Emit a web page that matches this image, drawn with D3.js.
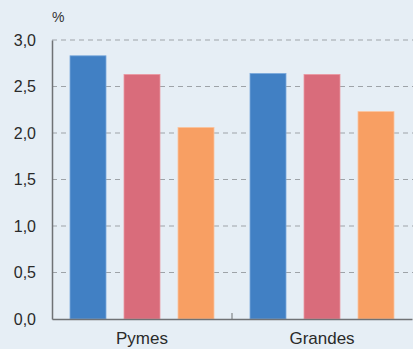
<!DOCTYPE html>
<html>
<head>
<meta charset="utf-8">
<script src="https://cdn.jsdelivr.net/npm/d3@7"></script>
<style>
  body { margin: 0; background: #e6eef5; }
  svg { display: block; font-family: "Liberation Sans", Arial, sans-serif; }
</style>
</head>
<body>
<svg></svg>
<script>
const categories = ["Pymes", "Grandes"];
const seriesNames = ["s1", "s2", "s3"];
const seriesValues = [
  [2.83, 2.63, 2.06],
  [2.64, 2.63, 2.23],
];
const yTicks = [0, 0.5, 1, 1.5, 2, 2.5, 3];
const colours = ["#4180c4", "#d96c7b", "#f89f63"];
const strokes = ["#7aa8dc", "#eb9aa4", "#fbc49e"];

const width = 413;
const height = 349;
const margin = { top: 40, right: 1, bottom: 30, left: 52 };

const svg = d3.select("svg").attr("width", width).attr("height", height);

svg.append("rect")
  .attr("width", width)
  .attr("height", height)
  .attr("fill", "#e6eef5");

const x0 = d3.scaleBand()
  .domain(categories)
  .range([margin.left, width - margin.right]);

const x1 = d3.scaleBand()
  .domain(seriesNames)
  .range([0, x0.bandwidth()])
  .paddingInner(1 / 3)
  .paddingOuter(1 / 3);

const y = d3.scaleLinear()
  .domain([0, 3])
  .range([height - margin.bottom, margin.top]);

const fmt = (d) => d3.format(".1f")(d).replace(".", ",");

// gridlines
svg.append("g")
  .selectAll("line")
  .data(yTicks.filter((d) => d > 0))
  .join("line")
  .attr("x1", margin.left)
  .attr("x2", width)
  .attr("y1", (d) => y(d))
  .attr("y2", (d) => y(d))
  .attr("stroke", "#9ea3a8")
  .attr("stroke-width", 1)
  .attr("stroke-dasharray", "5,4");

// bars
const groups = svg.append("g")
  .selectAll("g")
  .data(categories)
  .join("g")
  .attr("transform", (d) => `translate(${x0(d)},0)`);

groups.selectAll("rect")
  .data((d, i) => seriesValues[i].map((v, j) => ({ key: seriesNames[j], value: v, j })))
  .join("rect")
  .attr("x", (d) => x1(d.key))
  .attr("y", (d) => y(d.value))
  .attr("width", x1.bandwidth())
  .attr("height", (d) => y(0) - y(d.value))
  .attr("fill", (d) => colours[d.j])
  .attr("stroke", (d) => strokes[d.j])
  .attr("stroke-width", 0.8);

// y axis
const yAxis = svg.append("g")
  .attr("transform", `translate(${margin.left},0)`)
  .call(d3.axisLeft(y).tickValues(yTicks).tickFormat(fmt).tickSize(0).tickPadding(16));
yAxis.select(".domain").attr("stroke", "#6f7275").attr("stroke-width", 1.5);
yAxis.selectAll("text").attr("font-size", 16).attr("fill", "#2a2a2a").attr("font-family", "Liberation Sans, Arial, sans-serif");

// x axis
const xAxis = svg.append("g")
  .attr("transform", `translate(0,${y(0)})`)
  .call(d3.axisBottom(x0).tickSize(0).tickPadding(13));
xAxis.select(".domain").attr("stroke", "#6f7275").attr("stroke-width", 1.5);
xAxis.selectAll("text").attr("font-size", 17).attr("fill", "#2a2a2a").attr("font-family", "Liberation Sans, Arial, sans-serif");

// separator tick between groups
svg.append("line")
  .attr("x1", x0("Grandes"))
  .attr("x2", x0("Grandes"))
  .attr("y1", y(0))
  .attr("y2", y(0) - 6)
  .attr("stroke", "#6f7275")
  .attr("stroke-width", 1);

// unit label
svg.append("text")
  .attr("x", margin.left)
  .attr("y", 22)
  .attr("font-size", 14)
  .attr("fill", "#333")
  .text("%");
</script>
</body>
</html>
